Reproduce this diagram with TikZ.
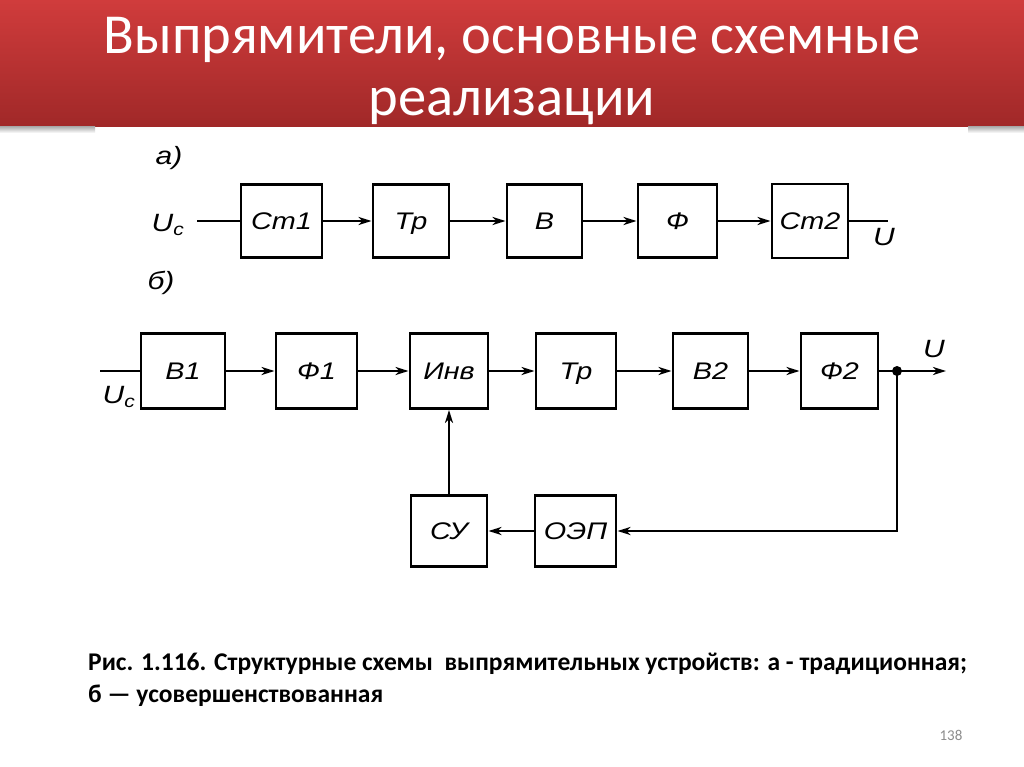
\documentclass[tikz,border=0pt]{standalone}
\usepackage{fontspec}
\setmainfont{Carlito}
\newfontfamily\diagfont{Liberation Sans}[FakeStretch=1.2]
\usetikzlibrary{arrows.meta,calc}
\definecolor{redtop}{RGB}{208,60,60}
\definecolor{redbot}{RGB}{160,40,40}
\definecolor{pgnum}{RGB}{140,140,140}
\tikzset{
  blk/.style={draw, line width=2.9pt, minimum height=75pt, inner sep=0pt,
    text height=17pt, text depth=0pt,
    font=\diagfont\itshape\fontsize{24}{24}\selectfont},
  wire/.style={line width=2.6pt},
  arr/.style={wire, -{Stealth[length=13pt,width=8pt,inset=4pt]}},
  lbl/.style={font=\diagfont\itshape\fontsize{25}{25}\selectfont, inner sep=0pt},
  ttl/.style={font=\fontsize{56.5}{56.5}\selectfont, text=white, inner sep=0pt, anchor=base},
  captxt/.style={font=\bfseries\fontsize{25.5}{25.5}\selectfont, inner sep=0pt, anchor=base west}
}
\begin{document}
\begin{tikzpicture}[x=1pt,y=-1pt]
\useasboundingbox (0,0) rectangle (1024,767);
\fill[white] (0,0) rectangle (1024,767);
% title band
\shade[top color=redtop, bottom color=redbot] (0,0) rectangle (1024,127);
\shade[top color=black!30, bottom color=white] (0,127) rectangle (95,133);
\shade[top color=black!30, bottom color=white] (968,127) rectangle (1024,133);
\node[ttl] (t1) at (512,54) {Выпрямители, основные схемные};
\node[ttl] (t2) at (512,116) {реализации};

% ---- scheme a
\node[lbl] (la) at (169,158) {а)};
\node[blk, minimum width=81pt, minimum height=73pt] (a1) at (281.5,221) {Ст1};
\node[blk, minimum width=76pt, minimum height=73pt] (a2) at (411,221) {Тр};
\node[blk, minimum width=75pt, minimum height=73pt] (a3) at (544.5,221) {В};
\node[blk, minimum width=79pt, minimum height=73pt] (a4) at (677.5,221) {Ф};
\node[blk, minimum width=76pt, minimum height=74pt] (a5) at (810,221) {Ст2};
\coordinate (ain) at (197,221);
\coordinate (aout) at (888,221);
\node[lbl] (auc) at (168,225) {U\textsubscript{c}};
\node[lbl] (au) at (884,237) {U};
\draw[wire] (ain) -- (a1.west);
\draw[arr] (a1) -- (a2);
\draw[arr] (a2) -- (a3);
\draw[arr] (a3) -- (a4);
\draw[arr] (a4) -- (a5);
\draw[wire] (a5.east) -- (aout);

% ---- scheme b
\node[lbl] (lb) at (161,283) {б)};
\node[blk, minimum width=84pt] (b1) at (183,371) {В1};
\node[blk, minimum width=81pt] (b2) at (316.5,371) {Ф1};
\node[blk, minimum width=78pt] (b3) at (449,371) {Инв};
\node[blk, minimum width=80pt] (b4) at (576,371) {Тр};
\node[blk, minimum width=75pt] (b5) at (710.5,371) {В2};
\node[blk, minimum width=77pt] (b6) at (839.5,371) {Ф2};
\node[blk, minimum width=76pt, minimum height=71pt] (su) at (449,531) {СУ};
\node[blk, minimum width=81pt, minimum height=71pt] (oep) at (575.5,531) {ОЭП};
\coordinate (bin) at (100,371);
\coordinate (j) at (897,371);
\coordinate (bout) at (946,371);
\node[lbl] (buc) at (119,397) {U\textsubscript{c}};
\node[lbl] (bu) at (934,349) {U};
\draw[wire] (bin) -- (b1.west);
\draw[arr] (b1) -- (b2);
\draw[arr] (b2) -- (b3);
\draw[arr] (b3) -- (b4);
\draw[arr] (b4) -- (b5);
\draw[arr] (b5) -- (b6);
\draw[arr] (b6.east) -- (bout);
\fill (j) circle (5pt);
\draw[arr] (j) |- (oep.east);
\draw[arr] (oep) -- (su);
\draw[arr] (su) -- (b3);

% caption
\node[captxt] (c1) at (88,670) {Рис. 1.116. Структурные схемы \ выпрямительных устройств: а - традиционная;};
\node[captxt] (c2) at (88,702) {б — усовершенствованная};
\node[font=\fontsize{15}{15}\selectfont, text=pgnum, inner sep=0pt] (pg) at (951,735) {138};
\end{tikzpicture}
\end{document}
